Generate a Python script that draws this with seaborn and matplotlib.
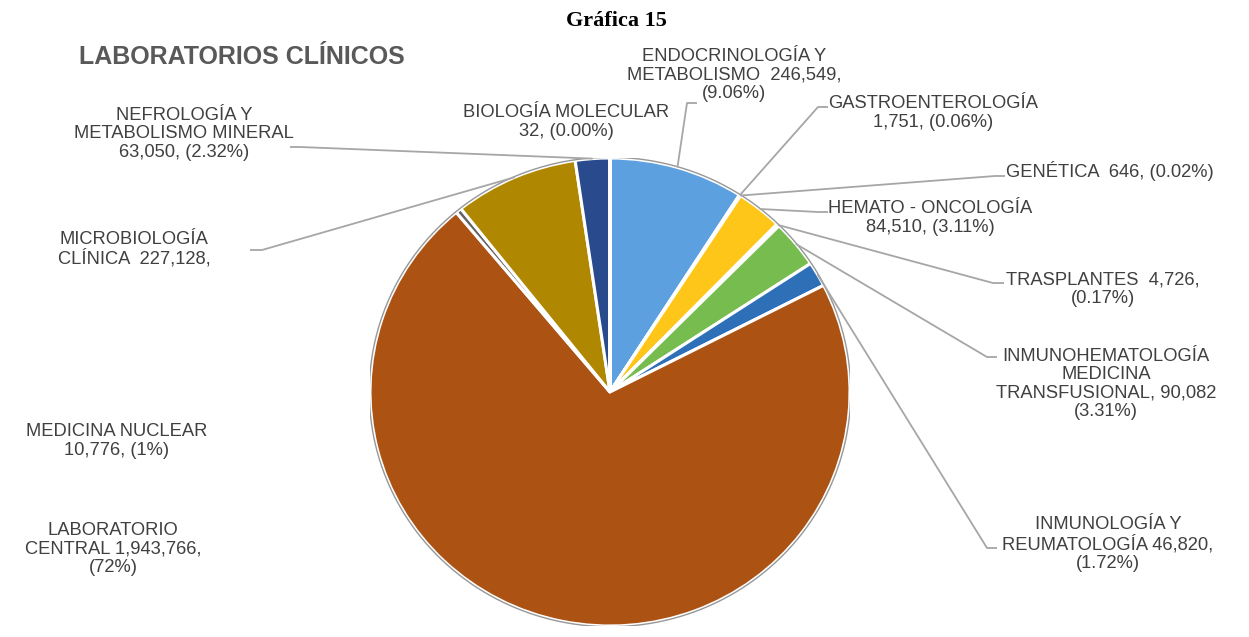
import numpy as np
import matplotlib
matplotlib.use('Agg')
import matplotlib.pyplot as plt
import seaborn as sns

########################################
# DATA
########################################
categories = [
    "ENDOCRINOLOGÍA Y METABOLISMO", "GASTROENTEROLOGÍA", "GENÉTICA",
    "HEMATO - ONCOLOGÍA", "TRASPLANTES", "INMUNOHEMATOLOGÍA MEDICINA TRANSFUSIONAL",
    "INMUNOLOGÍA Y REUMATOLOGÍA", "LABORATORIO CENTRAL", "MEDICINA NUCLEAR",
    "MICROBIOLOGÍA CLÍNICA", "NEFROLOGÍA Y METABOLISMO MINERAL", "BIOLOGÍA MOLECULAR",
]
values = [246549, 1751, 646, 84510, 4726, 90082, 46820, 1943766, 10776, 227128, 63050, 32]

# label text as printed on the chart
label_text = [
    "ENDOCRINOLOGÍA Y\nMETABOLISMO  246,549,\n(9.06%)",
    "GASTROENTEROLOGÍA\n1,751, (0.06%)",
    "GENÉTICA  646, (0.02%)",
    "HEMATO - ONCOLOGÍA\n84,510, (3.11%)",
    "TRASPLANTES  4,726,\n(0.17%)",
    "INMUNOHEMATOLOGÍA\nMEDICINA\nTRANSFUSIONAL, 90,082\n(3.31%)",
    "INMUNOLOGÍA Y\nREUMATOLOGÍA 46,820,\n(1.72%)",
    "LABORATORIO\nCENTRAL 1,943,766,\n(72%)",
    "MEDICINA NUCLEAR\n10,776, (1%)",
    "MICROBIOLOGÍA\nCLÍNICA  227,128,",
    "NEFROLOGÍA Y\nMETABOLISMO MINERAL\n63,050, (2.32%)",
    "BIOLOGÍA MOLECULAR\n32, (0.00%)",
]

slice_colors = ["#5DA0E0", "#ED7D31", "#A5A5A5", "#FFC61A", "#4472C4", "#76BC4E",
                "#2E70B8", "#AC5213", "#636363", "#B08700", "#2A4A8E", "#43682B"]

########################################
# LAYOUT (pixels, origin top-left)
########################################
W, H = 1249, 637
cx, cy, rx, ry = 610, 392, 240, 234

label_pos = [(734, 75), (933, 113), (1110, 171), (930, 218), (1103, 289), (1106, 384),
             (1108, 544), (113, 549), (117, 441), (134, 249), (184, 134), (566, 122)]

# leader lines: slice index -> (elbow, end)
leaders = {
    0: ((687, 103), (697, 103)),
    1: ((818, 107), (828, 107)),
    2: ((995, 176), (1005, 176)),
    3: ((818, 212), (828, 212)),
    4: ((993, 283), (1004, 283)),
    5: ((987, 357), (997, 357)),
    6: ((987, 548), (997, 548)),
    9: ((262, 250), (250, 250)),
    10: ((300, 147), (290, 147)),
}

########################################
# PLOT
########################################
sns.set_style("white")
plt.rcParams['font.family'] = ['Liberation Sans', 'DejaVu Sans']
palette = sns.color_palette(slice_colors)

fig = plt.figure(figsize=(W / 100, H / 100), dpi=100)

pax = fig.add_axes([(cx - rx) / W, (H - (cy + ry)) / H, 2 * rx / W, 2 * ry / H])
wedges, _ = pax.pie(values, colors=palette, startangle=90, counterclock=False,
                    radius=1, wedgeprops=dict(edgecolor="white", linewidth=2.2))
pax.set_aspect('auto')
pax.set_xlim(-1, 1)
pax.set_ylim(-1, 1)
pax.axis('off')

# thin darker rim like the bevelled original
rim = np.linspace(0, 2 * np.pi, 400)
pax.plot(np.cos(rim) * 1.003, np.sin(rim) * 1.003, color="#6b6b6b", lw=1.0, alpha=0.7)

ax = fig.add_axes([0, 0, 1, 1])
ax.set_xlim(0, W)
ax.set_ylim(H, 0)
ax.axis('off')
ax.patch.set_alpha(0)

to_px = pax.transData + ax.transData.inverted()

for i, (elbow, end) in leaders.items():
    w = wedges[i]
    mid = np.deg2rad((w.theta1 + w.theta2) / 2)
    sx, sy = to_px.transform((np.cos(mid), np.sin(mid)))
    ax.plot([sx, elbow[0], end[0]], [sy, elbow[1], end[1]], color="#A6A6A6", lw=1.3,
            solid_capstyle='butt')

for txt, (x, y) in zip(label_text, label_pos):
    ax.text(x, y, txt, ha='center', va='center', multialignment='center',
            fontsize=13.2, color="#404040", linespacing=1.1)

ax.text(616, 21, "Gráfica 15", ha='center', va='center', fontsize=16,
        fontweight='bold', family=['Liberation Serif', 'DejaVu Serif'], color="black")
ax.text(242, 57, "LABORATORIOS CLÍNICOS", ha='center', va='center', fontsize=18,
        fontweight='bold', color="#595959")

fig.savefig("out.png", dpi=100)
plt.close(fig)
